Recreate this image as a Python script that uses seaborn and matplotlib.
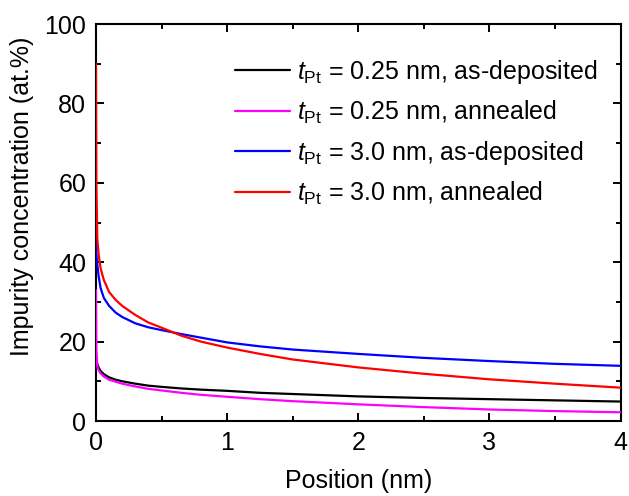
import matplotlib
matplotlib.use("Agg")
import matplotlib.pyplot as plt
from matplotlib.ticker import MultipleLocator
import seaborn as sns
import pandas as pd

# ---- data ----
position = [0, 0.003, 0.01, 0.02, 0.035, 0.06, 0.1, 0.15, 0.2, 0.3, 0.4, 0.5,
            0.65, 0.8, 1.0, 1.25, 1.5, 2.0, 2.5, 3.0, 3.5, 4.0]
thin_asdep = [17, 15.5, 14.3, 13.5, 12.6, 11.8, 11.0, 10.4, 10.0, 9.4, 8.9, 8.6,
              8.2, 7.9, 7.6, 7.1, 6.8, 6.2, 5.8, 5.5, 5.2, 4.9]
thin_ann = [33, 18, 13.8, 12.8, 12.0, 11.2, 10.4, 9.9, 9.4, 8.7, 8.1, 7.7,
            7.1, 6.6, 6.1, 5.5, 5.0, 4.2, 3.5, 2.9, 2.5, 2.2]
thick_asdep = [45, 42, 39.5, 36.5, 33.5, 31, 29, 27.3, 26.2, 24.6, 23.6, 22.9,
               21.9, 21.0, 19.8, 18.8, 18.0, 16.9, 15.9, 15.1, 14.4, 13.9]
thick_ann = [90, 60, 46, 42, 38.5, 35.5, 32.5, 30.5, 29.0, 26.7, 24.8, 23.5,
             21.5, 20.0, 18.5, 16.9, 15.5, 13.5, 11.9, 10.5, 9.4, 8.4]

labels = [r"$t_{\mathrm{Pt}}$ = 0.25 nm, as-deposited",
          r"$t_{\mathrm{Pt}}$ = 0.25 nm, annealed",
          r"$t_{\mathrm{Pt}}$ = 3.0 nm, as-deposited",
          r"$t_{\mathrm{Pt}}$ = 3.0 nm, annealed"]
colors = ["#000000", "#FF00FF", "#0000FF", "#FF0000"]
series = [thin_asdep, thin_ann, thick_asdep, thick_ann]

rows = []
for lab, vals in zip(labels, series):
    for x, y in zip(position, vals):
        rows.append({"pos": x, "conc": y, "series": lab})
df = pd.DataFrame(rows)

sns.set_theme(style="ticks")
plt.rcParams["font.family"] = ["Liberation Sans", "DejaVu Sans"]
plt.rcParams["mathtext.fontset"] = "custom"
plt.rcParams["mathtext.rm"] = "Liberation Sans"
plt.rcParams["mathtext.it"] = "Liberation Sans:italic"
plt.rcParams["mathtext.bf"] = "Liberation Sans:bold"
for k in ["text.color", "axes.labelcolor", "xtick.color", "ytick.color",
          "axes.edgecolor", "xtick.labelcolor", "ytick.labelcolor"]:
    plt.rcParams[k] = "black"

fig = plt.figure(figsize=(6.29, 4.96), dpi=100)
ax = fig.add_axes([0.1526, 0.1512, 0.834, 0.8004])

sns.lineplot(data=df, x="pos", y="conc", hue="series", hue_order=labels,
             palette=colors, errorbar=None, linewidth=1.6, ax=ax, sort=True)
for ln in ax.get_lines():
    ln.set_zorder(3)

ax.set_xlim(0, 4)
ax.set_ylim(0, 100)
ax.xaxis.set_major_locator(MultipleLocator(1))
ax.xaxis.set_minor_locator(MultipleLocator(0.5))
ax.yaxis.set_major_locator(MultipleLocator(20))
ax.yaxis.set_minor_locator(MultipleLocator(10))
ax.tick_params(which="both", direction="in", top=True, right=True,
               width=1.4, colors="black", labelsize=18)
ax.tick_params(which="major", length=6, pad=7)
ax.tick_params(which="minor", length=3.5)
for s in ax.spines.values():
    s.set_linewidth(1.5)
    s.set_color("black")

ax.set_xlabel("Position (nm)", fontsize=18, labelpad=10)
ax.set_ylabel("Impurity concentration (at.%)", fontsize=18)
ax.yaxis.set_label_coords(-0.118, 0.565)

ax.legend(loc="upper right", bbox_to_anchor=(0.975, 0.94), frameon=False,
          fontsize=18, handlelength=2.2, handletextpad=0.3, labelspacing=0.52,
          borderaxespad=0)

fig.savefig("out.png", dpi=100)
